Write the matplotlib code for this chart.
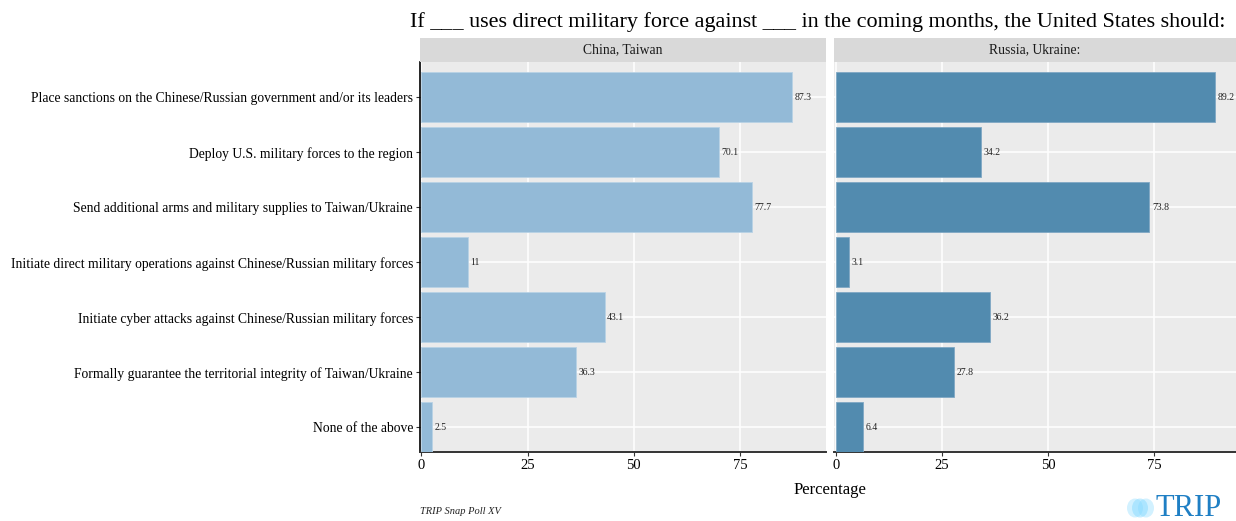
import matplotlib
matplotlib.use("Agg")
import matplotlib.pyplot as plt
from matplotlib.patches import Ellipse

categories = [
    "Place sanctions on the Chinese/Russian government and/or its leaders",
    "Deploy U.S. military forces to the region",
    "Send additional arms and military supplies to Taiwan/Ukraine",
    "Initiate direct military operations against Chinese/Russian military forces",
    "Initiate cyber attacks against Chinese/Russian military forces",
    "Formally guarantee the territorial integrity of Taiwan/Ukraine",
    "None of the above",
]
china_taiwan = [87.3, 70.1, 77.7, 11, 43.1, 36.3, 2.5]
russia_ukraine = [89.2, 34.2, 73.8, 3.1, 36.2, 27.8, 6.4]
china_labels = ["87.3", "70.1", "77.7", "11", "43.1", "36.3", "2.5"]
russia_labels = ["89.2", "34.2", "73.8", "3.1", "36.2", "27.8", "6.4"]
panel_titles = ["China, Taiwan", "Russia, Ukraine:"]
xticks = [0, 25, 50, 75]

plt.rcParams["font.family"] = ["Liberation Serif", "DejaVu Serif"]

W, H = 1236, 521
fig = plt.figure(figsize=(W / 100, H / 100), dpi=100)


def px(x0, y0, x1, y1):
    return [x0 / W, 1 - y1 / H, (x1 - x0) / W, (y1 - y0) / H]


panels = [
    (px(420, 62, 826, 452), px(420, 38, 826, 62), china_taiwan, china_labels, "#93BAD7", (-0.3, 95.2), True),
    (px(834, 62, 1236, 452), px(834, 38, 1236, 62), russia_ukraine, russia_labels, "#528BAF", (-0.45, 94.2), False),
]

ypos = list(range(len(categories)))
for i, (rect, srect, vals, labs, color, xl, show_y) in enumerate(panels):
    ax = fig.add_axes(rect)
    ax.set_facecolor("#EBEBEB")
    ax.barh(ypos, vals, height=0.9, color=color, edgecolor="#B9D2E5" if i == 0 else "#7FA8C4",
            linewidth=0.6, zorder=3)
    for y, v, l in zip(ypos, vals, labs):
        ax.text(v + 0.6, y, l, va="center", ha="left", fontsize=7, color="#222222", zorder=4)
    ax.set_xlim(*xl)
    ax.set_ylim(len(categories) - 1 + 0.45, -0.64)
    ax.set_xticks(xticks)
    ax.set_xticklabels([str(t) for t in xticks], fontsize=10.5)
    ax.set_yticks(ypos)
    ax.grid(True, color="white", linewidth=1.1, zorder=0)
    ax.set_axisbelow(True)
    for s in ["top", "right"]:
        ax.spines[s].set_visible(False)
    ax.spines["bottom"].set_color("#333333")
    ax.spines["bottom"].set_linewidth(1.4)
    ax.tick_params(axis="x", length=3, width=0.8, color="#333333", pad=2)
    if show_y:
        ax.set_yticklabels(categories, fontsize=9.8)
        ax.spines["left"].set_color("black")
        ax.spines["left"].set_linewidth(1.2)
        ax.tick_params(axis="y", length=3, width=0.8, color="#333333", pad=2)
    else:
        ax.set_yticklabels([])
        ax.spines["left"].set_visible(False)
        ax.tick_params(axis="y", length=0)
    sax = fig.add_axes(srect)
    sax.set_facecolor("#D9D9D9")
    sax.set_xticks([])
    sax.set_yticks([])
    for s in sax.spines.values():
        s.set_visible(False)
    sax.text(0.5, 0.5, panel_titles[i], ha="center", va="center", fontsize=9.8,
             color="#1A1A1A", transform=sax.transAxes)

fig.text(410 / W, 1 - 27 / H,
         "If ___ uses direct military force against ___ in the coming months, the United States should:",
         fontsize=15.9, ha="left", va="baseline", color="black")
fig.text(830 / W, 1 - 490 / H, "Percentage", fontsize=12, ha="center", va="center")
fig.text(420 / W, 1 - 511 / H, "TRIP Snap Poll XV", fontsize=7.5, style="italic",
         ha="left", va="center", color="#222222")

# TRIP logo
lax = fig.add_axes(px(1120, 490, 1236, 521))
lax.set_xlim(0, 116)
lax.set_ylim(31, 0)
lax.axis("off")
for cx, a in [(15, 0.35), (20, 0.45), (26, 0.35)]:
    lax.add_patch(Ellipse((cx, 18), 16, 19, color="#7FD8FF", alpha=a, lw=0))
lax.text(36, 18.5, "TRIP", fontsize=22, color="#1F7FC4", ha="left", va="center")

fig.savefig("out.png", dpi=100)
